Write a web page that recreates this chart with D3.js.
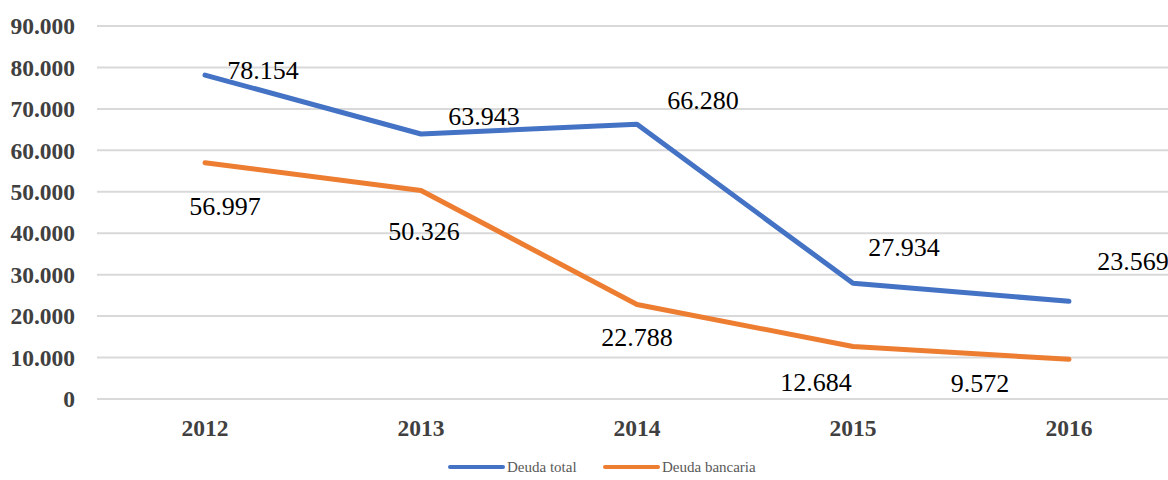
<!DOCTYPE html>
<html>
<head>
<meta charset="utf-8">
<script src="https://cdn.jsdelivr.net/npm/d3@7"></script>
<style>
  body { margin: 0; background: #fff; }
</style>
</head>
<body>
<div id="chart"></div>
<script>
var years = ["2012", "2013", "2014", "2015", "2016"];
var deudaTotal = [78154, 63943, 66280, 27934, 23569];
var deudaBancaria = [56997, 50326, 22788, 12684, 9572];
var yTicks = [0, 10000, 20000, 30000, 40000, 50000, 60000, 70000, 80000, 90000];

// label offsets from the point (layout only)
var totalLabelOffsets = [[58, -5], [63, -18], [66, -24], [51, -36], [64, -40]];
var bancLabelOffsets = [[20, 43], [3, 40], [0, 32], [-37, 35], [-89, 24]];

var width = 1168, height = 480;
var serif = "Liberation Serif";

var svg = d3.select("#chart").append("svg")
    .attr("width", width)
    .attr("height", height);

var x = d3.scalePoint()
    .domain(years)
    .range([97, 1177])
    .padding(0.5);

var y = d3.scaleLinear()
    .domain([0, 90000])
    .range([399, 26]);

function fmt(v) {
    return v === 0 ? "0" : d3.format(",")(v).replace(/,/g, ".");
}

// gridlines
svg.append("g").selectAll("line")
    .data(yTicks)
    .enter()
    .append("line")
    .attr("x1", 97)
    .attr("x2", width)
    .attr("y1", function(d) { return y(d); })
    .attr("y2", function(d) { return y(d); })
    .attr("stroke", "#d9d9d9")
    .attr("stroke-width", 2);

// y axis labels
svg.append("g").selectAll("text")
    .data(yTicks)
    .enter()
    .append("text")
    .attr("x", 75)
    .attr("y", function(d) { return y(d); })
    .attr("dy", "0.35em")
    .attr("text-anchor", "end")
    .attr("font-family", serif)
    .attr("font-size", 23.5)
    .attr("font-weight", "bold")
    .attr("fill", "#404040")
    .text(fmt);

// x axis labels
svg.append("g").selectAll("text")
    .data(years)
    .enter()
    .append("text")
    .attr("x", function(d) { return x(d); })
    .attr("y", 436)
    .attr("text-anchor", "middle")
    .attr("font-family", serif)
    .attr("font-size", 23.5)
    .attr("font-weight", "bold")
    .attr("fill", "#404040")
    .text(function(d) { return d; });

var line = d3.line()
    .x(function(d, i) { return x(years[i]); })
    .y(function(d) { return y(d); });

var series = [
    { name: "Deuda total", values: deudaTotal, color: "#4472C4", offsets: totalLabelOffsets },
    { name: "Deuda bancaria", values: deudaBancaria, color: "#ED7D31", offsets: bancLabelOffsets }
];

series.forEach(function(s) {
    svg.append("path")
        .datum(s.values)
        .attr("d", line)
        .attr("fill", "none")
        .attr("stroke", s.color)
        .attr("stroke-width", 5)
        .attr("stroke-linecap", "round")
        .attr("stroke-linejoin", "round");

    svg.append("g").selectAll("text")
        .data(s.values)
        .enter()
        .append("text")
        .attr("x", function(d, i) { return x(years[i]) + s.offsets[i][0]; })
        .attr("y", function(d, i) { return y(d) + s.offsets[i][1]; })
        .attr("dy", "0.35em")
        .attr("text-anchor", "middle")
        .attr("font-family", serif)
        .attr("font-size", 26)
        .attr("fill", "#000")
        .text(fmt);
});

// legend
var legend = svg.append("g");
var legendX = [450, 605];
series.forEach(function(s, i) {
    legend.append("line")
        .attr("x1", legendX[i])
        .attr("x2", legendX[i] + 53)
        .attr("y1", 467)
        .attr("y2", 467)
        .attr("stroke", s.color)
        .attr("stroke-width", 4)
        .attr("stroke-linecap", "round");
    legend.append("text")
        .attr("x", legendX[i] + 57)
        .attr("y", 467)
        .attr("dy", "0.35em")
        .attr("font-family", serif)
        .attr("font-size", 15)
        .attr("fill", "#595959")
        .text(s.name);
});
</script>
</body>
</html>
